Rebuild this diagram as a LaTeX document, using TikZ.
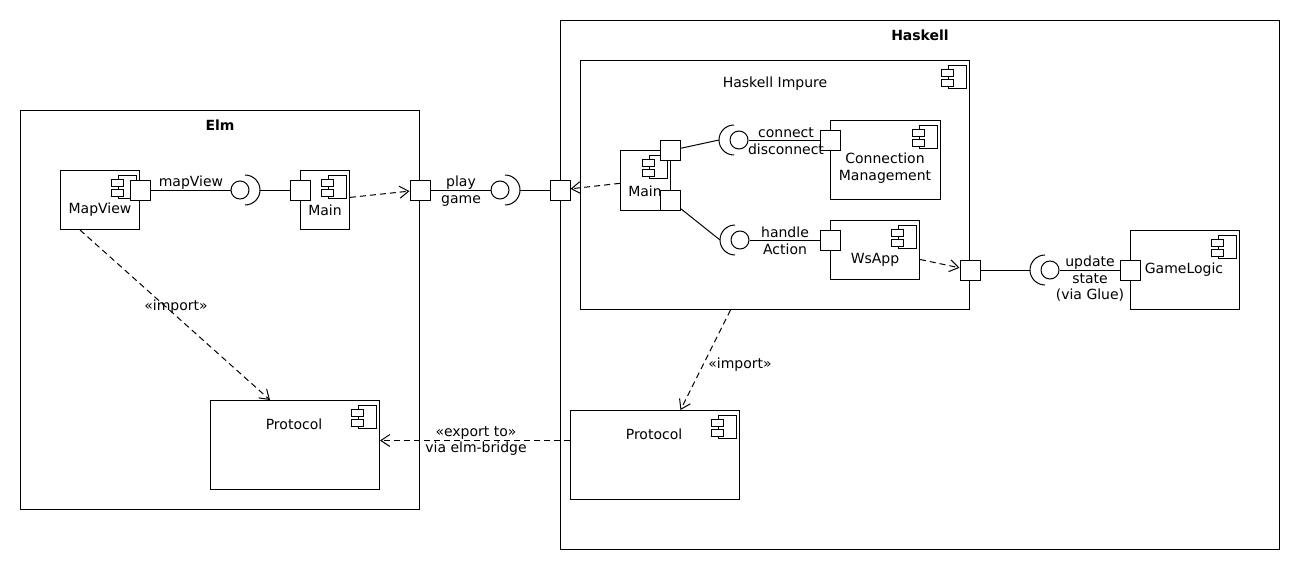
\documentclass[tikz,border=0pt]{standalone}
\usepackage{fontspec}
\setmainfont{DejaVu Sans}
\usetikzlibrary{arrows.meta}
\newcommand{\cicon}[1]{%
  \draw[fill=white] ([shift={(-22,5)}]#1.north east) rectangle ++(18,23);
  \draw[fill=white] ([shift={(-29,9)}]#1.north east) rectangle ++(12,7);
  \draw[fill=white] ([shift={(-29,19)}]#1.north east) rectangle ++(12,7);}
\newcommand{\sockR}[2]{\draw (#1,#2-15) arc[start angle=-90,end angle=90,radius=15];}
\newcommand{\sockL}[2]{\draw (#1,#2-15) arc[start angle=-90,end angle=-270,radius=15];}
\begin{document}
\begin{tikzpicture}[x=1pt,y=-1pt,line width=1pt,
  box/.style={draw,inner sep=0,anchor=north west,fill=white},
  port/.style={draw,fill=white,minimum size=20pt,inner sep=0},
  lolli/.style={draw,circle,minimum size=18pt,inner sep=0},
  dep/.style={dash pattern=on 6pt off 4pt,-{Straight Barb[length=9pt,width=12pt]}},
  txt/.style={inner sep=0,yshift=-2pt,font=\fontsize{14}{16.5}\selectfont,align=center},
  ttl/.style={txt,font=\fontsize{14}{16.5}\selectfont\bfseries}]
\useasboundingbox[fill=white] (0,0) rectangle (1300,570);
% frames
\node[box,minimum width=399pt,minimum height=399pt] (elm) at (20,110) {};
\node[box,minimum width=719pt,minimum height=529pt] (hs) at (560,20) {};
\node[box,minimum width=389pt,minimum height=249pt] (imp) at (580,60) {};
\node[ttl] (telm) at (220,123) {Elm};
\node[ttl] (ths) at (920,33) {Haskell};
\node[txt] (timp) at (775,82) {Haskell Impure};
\cicon{imp}
% components
\node[box,minimum width=79pt,minimum height=59pt] (mv) at (60,170) {};
\node[box,minimum width=49pt,minimum height=59pt] (mainE) at (300,170) {};
\node[box,minimum width=169pt,minimum height=89pt] (protoE) at (210,400) {};
\node[box,minimum width=169pt,minimum height=89pt] (protoH) at (570,410) {};
\node[box,minimum width=50pt,minimum height=60pt] (mainH) at (620,150) {};
\node[box,minimum width=110pt,minimum height=79pt] (cm) at (830,120) {};
\node[box,minimum width=89pt,minimum height=59pt] (ws) at (830,220) {};
\node[box,minimum width=109pt,minimum height=79pt] (gl) at (1130,230) {};
\foreach \c in {mv,mainE,protoE,protoH,mainH,cm,ws,gl} {\cicon{\c}}
\node[txt] (tmv) at (100,208) {MapView};
\node[txt] (tmainE) at (325,208) {Main};
\node[txt] (tprotoE) at (294,422) {Protocol};
\node[txt] (tprotoH) at (654,432) {Protocol};
\node[txt] (tmainH) at (645,189) {Main};
\node[txt] (tcm) at (885,166) {Connection\\Management};
\node[txt] (tws) at (875,258) {WsApp};
\node[txt] (tgl) at (1184,268) {GameLogic};
% ports
\node[port] (pMV) at (140,190) {};
\node[port] (pMain) at (300,190) {};
\node[port] (pElm) at (420,190) {};
\node[port] (pHs) at (560,190) {};
\node[port] (pTop) at (670.5,150.5) {};
\node[port] (pBot) at (670.5,200.5) {};
\node[port] (pCM) at (830,140) {};
\node[port] (pWs) at (830,240) {};
\node[port] (pImp) at (970,270) {};
\node[port] (pGL) at (1130,270) {};
% interfaces
\node[lolli] (iMV) at (240,190) {};
\sockR{245}{190}
\coordinate (aMV) at (260,190);
\node[lolli] (iPlay) at (500,190) {};
\sockR{505}{190}
\coordinate (aPlay) at (520,190);
\node[lolli] (iCon) at (739,140) {};
\sockL{734}{140}
\coordinate (aCon) at (719,140);
\node[lolli] (iHan) at (740,240) {};
\sockL{735}{240}
\coordinate (aHan) at (720,240);
\node[lolli] (iUpd) at (1050,270) {};
\sockL{1045}{270}
\coordinate (aUpd) at (1030,270);
% links
\draw (pMV) -- (iMV);
\draw (aMV) -- (pMain);
\draw (pElm) -- (iPlay);
\draw (aPlay) -- (pHs);
\draw (pTop) -- (aCon);
\draw (iCon) -- (pCM);
\draw (pBot) -- (aHan);
\draw (iHan) -- (pWs);
\draw (pImp) -- (aUpd);
\draw (iUpd) -- (pGL);
% link labels
\node[txt] (lmv) at (191,181) {mapView};
\node[txt] (lplay) at (461,189) {play\\game};
\node[txt] (lcon) at (786,139) {connect\\disconnect};
\node[txt] (lhan) at (785,239) {handle\\Action};
\node[txt] (lupd) at (1090,277) {update\\state\\(via Glue)};
% dependencies
\draw[dep] (mainE) -- (pElm);
\draw[dep] (mainH) -- (pHs);
\draw[dep] (ws) -- (pImp);
\draw[dep] ([xshift=-20pt]mv.south) -- ([xshift=-25pt]protoE.north);
\draw[dep] ([xshift=-44.5pt]imp.south) -- ([xshift=25.5pt]protoH.north);
\draw[dep] ([yshift=14.5pt]protoH.west) -- ([yshift=4.5pt]protoE.east);
\node[txt] (limpE) at (176,305) {«import»};
\node[txt] (limpH) at (740,363) {«import»};
\node[txt] (lexp) at (476,439) {«export to»\\via elm-bridge};
\end{tikzpicture}
\end{document}
